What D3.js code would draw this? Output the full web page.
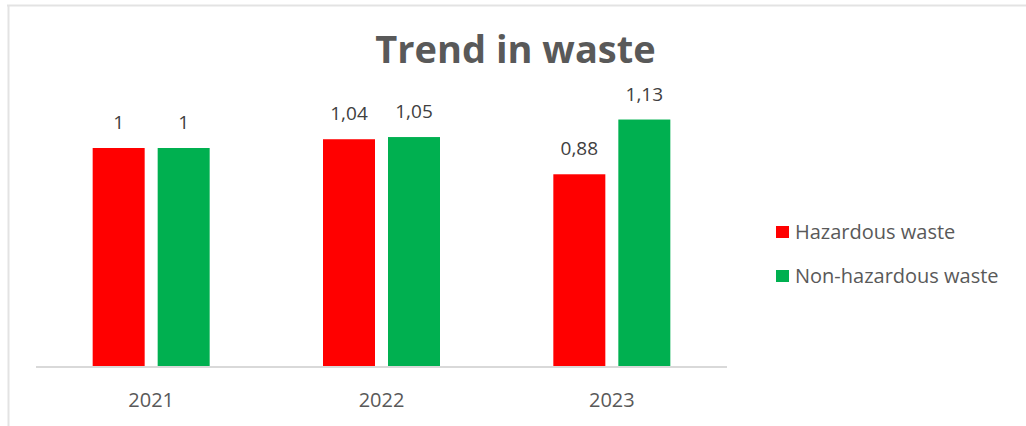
<!DOCTYPE html>
<html>
<head>
<meta charset="utf-8">
<script src="https://cdn.jsdelivr.net/npm/d3@7"></script>
<style>
  html, body { margin: 0; padding: 0; background: #fff; }
  svg { display: block; font-family: "Open Sans", sans-serif; }
</style>
</head>
<body>
<svg id="chart" width="1026" height="426"></svg>
<script>
// Waste trend, indexed values per year
const years = ["2021", "2022", "2023"];
const seriesNames = ["Hazardous waste", "Non-hazardous waste"];
const hazardous = [1, 1.04, 0.88];
const nonHazardous = [1, 1.05, 1.13];
const seriesColors = ["#FF0000", "#00B050"];

const rows = years.map((y, i) => ({ year: y, values: [hazardous[i], nonHazardous[i]] }));

const svg = d3.select("#chart");
const W = 1026, H = 426;
const plot = { left: 36, right: 727, top: 80, bottom: 367 };

// Frame lines (top and left)
svg.append("line").attr("x1", 7).attr("x2", W).attr("y1", 5.5).attr("y2", 5.5)
  .attr("stroke", "#e3e3e3").attr("stroke-width", 2);
svg.append("line").attr("x1", 8.5).attr("x2", 8.5).attr("y1", 6).attr("y2", H)
  .attr("stroke", "#e3e3e3").attr("stroke-width", 2);

const x0 = d3.scaleBand().domain(years).range([plot.left, plot.right]).paddingInner(0).paddingOuter(0);
const x1 = d3.scaleBand().domain(d3.range(seriesNames.length))
  .range([x0.bandwidth() / 2 - 58.5, x0.bandwidth() / 2 + 58.5]).paddingInner(0.2).paddingOuter(0);
const y = d3.scaleLinear().domain([0, 1]).range([plot.bottom, plot.bottom - 219]);

// Title
svg.append("text")
  .attr("x", 515.5).attr("y", 63)
  .attr("text-anchor", "middle")
  .attr("font-size", 38).attr("font-weight", 700)
  .attr("fill", "#595959")
  .text("Trend in waste");

// Bars
const groups = svg.append("g").selectAll("g").data(rows).join("g")
  .attr("transform", d => `translate(${x0(d.year)},0)`);

groups.selectAll("rect").data(d => d.values).join("rect")
  .attr("x", (d, i) => x1(i))
  .attr("width", x1.bandwidth())
  .attr("y", d => y(d))
  .attr("height", d => y(0) - y(d))
  .attr("fill", (d, i) => seriesColors[i]);

// Value labels (comma decimal separator)
const fmt = v => String(v).replace(".", ",");
groups.selectAll("text.val").data(d => d.values).join("text")
  .attr("class", "val")
  .attr("x", (d, i) => x1(i) + x1.bandwidth() / 2)
  .attr("y", d => y(d) - 19)
  .attr("text-anchor", "middle")
  .attr("font-size", 19)
  .attr("fill", "#404040")
  .text(d => fmt(d));

// Category axis
const xAxis = svg.append("g")
  .attr("transform", `translate(0,${plot.bottom})`)
  .call(d3.axisBottom(x0).tickSize(0).tickPadding(26));
xAxis.select(".domain").attr("stroke", "#d9d9d9").attr("stroke-width", 2)
  .attr("d", `M${plot.left},0H${plot.right}`);
xAxis.selectAll("text")
  .attr("font-size", 20).attr("fill", "#595959")
  .attr("font-family", "'Open Sans', sans-serif");

// Legend
const legend = svg.append("g").selectAll("g").data(seriesNames).join("g")
  .attr("transform", (d, i) => `translate(776,${232 + i * 44})`);
legend.append("rect").attr("x", 0).attr("y", -6).attr("width", 13).attr("height", 12)
  .attr("fill", (d, i) => seriesColors[i]);
legend.append("text").attr("x", 19).attr("y", 0).attr("dy", "0.35em")
  .attr("font-size", 20).attr("fill", "#595959")
  .text(d => d);
</script>
</body>
</html>
